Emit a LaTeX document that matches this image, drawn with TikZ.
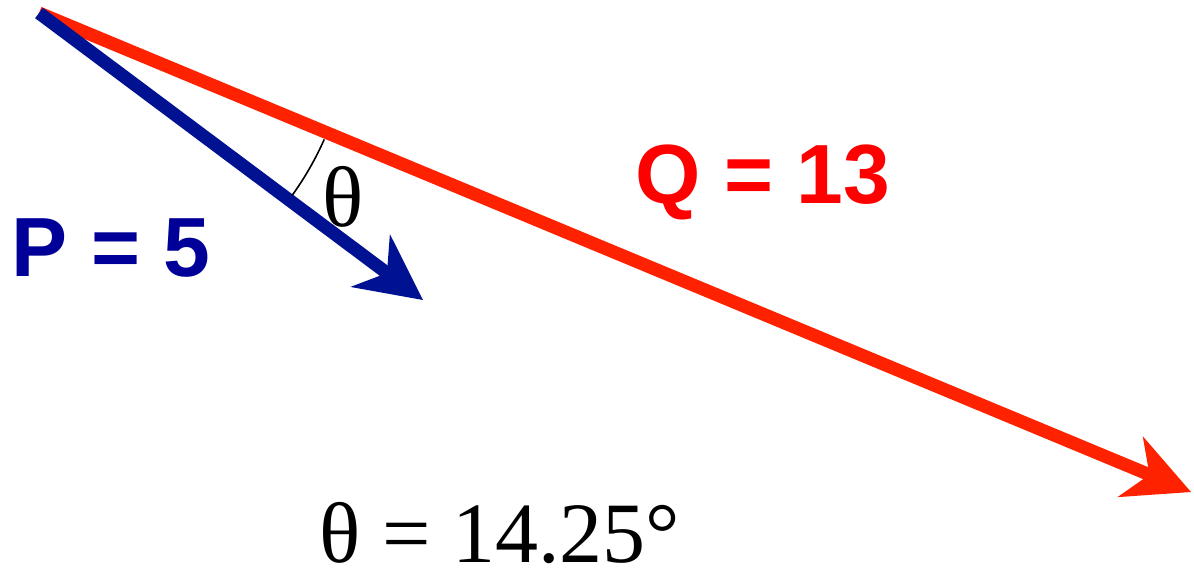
\documentclass[tikz,border=0pt]{standalone}
\usepackage{fontspec}
\setmainfont{Liberation Serif}
\newfontfamily\arialbold[Scale=1.0]{Liberation Sans}
\usetikzlibrary{arrows.meta}
\definecolor{vblue}{RGB}{0,18,145}
\definecolor{tblue}{RGB}{0,0,153}
\definecolor{vred}{RGB}{255,34,0}
\definecolor{tred}{RGB}{255,0,0}
\begin{document}
\begin{tikzpicture}[x=1pt,y=-1pt,
  vec/.style={line width=13pt,-{Stealth[length=66pt,width=66pt,inset=21pt,line width=0pt]}},
  biglabel/.style={font=\fontsize{84}{90}\selectfont\arialbold\bfseries,inner sep=0pt,anchor=base},
  serlabel/.style={font=\fontsize{86}{92}\selectfont,inner sep=0pt,anchor=base,text depth=0pt}]
\useasboundingbox (0,0) rectangle (1194,571);
\coordinate (O) at (39,13);
\coordinate (Ptip) at (423,300);
\coordinate (Qtip) at (1191,492);
\draw[vec,vred] (O) -- (Qtip);
\draw[vec,vblue] (O) -- (Ptip);
\draw[line width=1.6pt] ([shift={(23.9:312)}]O) arc[start angle=23.9,end angle=35.8,radius=312];
\node[serlabel] (th) at (343,226) {θ};
\node[biglabel,text=tblue] (P) at (111,276) {P = 5};
\node[biglabel,text=tred] (Q) at (763,203) {Q = 13};
\node[serlabel] (eq) at (500,562) {θ = 14.25°};
\end{tikzpicture}
\end{document}
